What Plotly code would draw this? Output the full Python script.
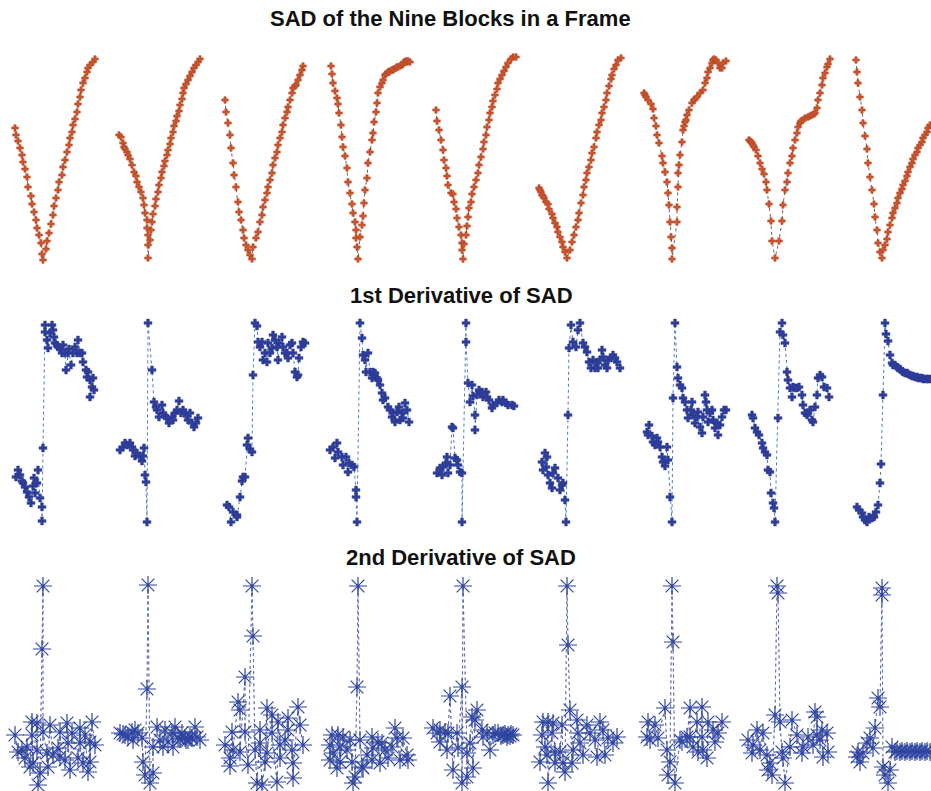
import plotly.graph_objects as go

# ---------------------------------------------------------------------------
# Data: nine blocks per frame; each block is a list of (position, value) pairs
# ---------------------------------------------------------------------------
sad_points = [
    [(5,134),(6,127),(8,121),(10,114),(12,107),(13,100),(15,93),(17,85),(18,75),(21,66),(22,58),(24,50),(26,42),(27,34),(29,27),(31,19),(32,8),(33,2),
     (36,13),(37,21),(39,29),(41,38),(43,47),(44,56),(46,64),(48,72),(49,80),(52,87),(53,95),(55,102),(57,110),(59,117),(60,124),(62,130),(63,137),(65,143),(67,150),(68,158),(70,165),(71,172),(73,179),(75,184),(77,190),(78,194),(80,197),(83,200),(85,203)],
    [(5,127),(7,125),(9,119),(10,115),(11,113),(13,110),(14,107),(16,103),(18,97),(20,90),(22,86),(23,80),(25,75),(27,70),(29,64),(30,57),(31,49),(33,42),(33,34),(34,27),(34,17),(34,4),
     (36,22),(37,32),(38,40),(39,48),(41,56),(42,63),(44,70),(45,77),(47,84),(48,90),(50,96),(51,101),(53,107),(54,112),(56,118),(57,124),(59,130),(60,136),(62,141),(63,146),(65,151),(66,157),(68,163),(69,169),(70,174),(72,178),(74,182),(76,186),(78,190),(80,194),(82,197),(84,200),(86,203)],
    [(7,162),(8,150),(10,139),(12,127),(13,114),(15,99),(16,87),(18,75),(20,60),(21,50),(23,42),(25,32),(26,24),(28,17),(30,12),(32,7),(34,3),
     (35,15),(38,24),(40,30),(42,40),(44,47),(45,55),(47,62),(49,69),(50,75),(52,82),(54,89),(55,97),(57,104),(59,110),(60,117),(62,124),(64,130),(65,137),(67,144),(69,150),(70,155),(72,162),(74,169),(75,174),(77,176),(78,177),(80,182),(82,187),(84,192),(85,196)],
    [(9,196),(10,188),(11,179),(13,171),(15,164),(16,158),(17,149),(19,137),(20,125),(21,115),(23,106),(25,94),(26,80),(28,69),(30,58),(31,49),(33,40),(34,32),(34,24),(35,15),(36,3),
     (38,25),(40,37),(41,46),(42,59),(43,72),(45,84),(46,99),(48,110),(50,122),(51,129),(52,140),(54,150),(55,159),(56,169),(58,175),(60,179),(61,182),(63,187),(64,188),(66,190),(67,190),(68,191),(70,192),(71,192),(72,193),(74,194),(75,195),(76,195),(78,196),(80,197),(81,198),(82,200),(84,201),(85,200),(86,201),(88,200)],
    [(10,152),(11,141),(13,132),(15,122),(17,112),(18,102),(20,94),(21,86),(22,77),(25,69),(27,68),(28,60),(30,53),(31,44),(33,35),(35,27),(36,19),(36,12),(37,3),
     (38,18),(40,27),(41,36),(42,45),(43,54),(45,60),(46,68),(48,75),(50,82),(52,89),(53,97),(55,105),(57,113),(58,120),(60,127),(61,135),(63,142),(64,149),(66,155),(67,161),(69,167),(71,173),(72,179),(74,183),(76,187),(78,191),(80,195),(82,199),(85,203),(87,205),(90,205)],
    [(9,74),(10,72),(11,70),(12,67),(13,66),(14,64),(16,60),(18,58),(19,53),(22,48),(23,44),(25,39),(27,35),(28,30),(30,25),(32,20),(33,15),(35,10),(37,4),
     (40,12),(42,20),(44,27),(46,35),(48,42),(49,49),(51,59),(53,67),(54,75),(56,82),(57,89),(59,95),(61,102),(62,109),(64,115),(66,124),(67,130),(69,137),(71,142),(72,149),(74,155),(76,162),(77,169),(79,176),(81,183),(82,187),(84,193),(86,197),(88,202),(91,204)],
    [(10,169),(11,167),(12,165),(14,162),(17,158),(19,153),(20,144),(22,136),(23,127),(25,119),(28,106),(29,99),(31,90),(33,80),(34,69),(35,57),(36,40),(37,25),(38,14),(38,3),
     (43,40),(43,55),(44,75),(44,89),(45,97),(46,107),(48,120),(49,132),(50,136),(51,140),(52,142),(53,147),(55,152),(58,159),(60,162),(61,163),(63,165),(66,169),(69,172),(71,179),(73,184),(74,190),(76,194),(78,199),(79,202),(80,203),(82,202),(84,199),(86,194),(88,194),(89,199),(92,201)],
    [(11,122),(12,121),(13,120),(14,119),(15,117),(16,115),(18,112),(20,106),(22,99),(24,93),(26,88),(28,80),(29,72),(31,58),(33,41),(34,21),(37,4),
     (41,21),(44,41),(45,57),(47,72),(49,80),(50,89),(52,99),(54,106),(55,114),(57,122),(59,129),(60,135),(62,139),(63,141),(65,142),(67,144),(70,145),(72,146),(74,147),(76,148),(77,149),(79,154),(80,162),(82,169),(84,177),(85,184),(87,189),(89,195),(90,198),(92,203)],
    [(14,202),(15,190),(16,179),(18,165),(20,152),(21,139),(23,126),(25,113),(26,99),(28,85),(30,72),(32,58),(33,45),(35,32),(36,19),(38,10),(40,4),
     (41,12),(43,17),(45,23),(46,30),(48,37),(50,44),(51,49),(53,54),(55,59),(56,64),(58,69),(60,73),(61,77),(63,81),(65,86),(66,90),(68,95),(70,99),(71,103),(73,107),(75,110),(76,114),(78,117),(80,120),(81,124),(83,127),(85,130),(86,134),(88,137),(90,140),(92,144)],
]

d1_points = [
    [(6,47),(8,54),(10,49),(12,43),(13,41),(15,37),(17,32),(19,27),(21,21),(23,38),(24,46),(25,31),(27,41),(28,54),(30,26),(32,17),(32,3),(33,76),(35,199),(35,192),
     (37,184),(38,176),(40,191),(42,199),(43,194),(44,187),(45,181),(47,179),(48,177),(50,175),(52,171),(53,179),(55,171),(56,154),(58,171),(59,175),(61,159),(63,171),
     (65,177),(67,171),(68,184),(70,171),(72,171),(73,162),(76,154),(77,147),(78,152),(80,144),(80,127),(82,137),(83,146),(84,134)],
    [(6,74),(9,77),(11,81),(13,79),(16,81),(18,77),(19,74),(21,68),(23,71),(26,67),(28,63),(29,68),(30,76),(31,49),(32,42),(33,2),(34,201),(38,154),(40,122),
     (42,117),(43,114),(45,107),(48,119),(49,111),(51,108),(53,106),(55,101),(58,107),(59,104),(61,111),(63,114),(65,123),(67,111),(69,114),(71,111),(73,108),
     (74,104),(76,111),(78,101),(80,97),(82,101),(84,106)],
    [(9,19),(11,17),(13,2),(15,12),(19,9),(19,7),(22,27),(24,43),(25,47),(27,47),(29,79),(30,86),(32,75),(34,72),(35,149),(37,201),(39,198),(40,182),(42,177),
     (44,182),(45,164),(47,171),(49,162),(50,181),(52,171),(54,176),(55,189),(57,184),(59,177),(60,164),(61,181),(64,187),(65,177),(67,171),(69,171),(70,166),
     (72,179),(74,181),(75,171),(77,152),(79,147),(80,149),(81,166),(83,177),(85,182),(87,181)],
    [(8,74),(11,77),(13,66),(15,81),(16,72),(20,67),(21,59),(24,67),(26,52),(27,61),(30,59),(32,57),(34,34),(34,27),(35,2),(38,201),(40,186),(41,169),(43,164),
     (44,152),(46,171),(48,152),(50,146),(51,152),(53,151),(55,146),(56,144),(58,139),(60,131),(61,124),(63,126),(66,117),(68,114),(70,107),(71,111),(73,102),
     (75,112),(77,117),(78,104),(80,111),(81,106),(83,121),(85,114),(87,102)],
    [(11,51),(14,56),(16,49),(17,57),(20,61),(21,67),(22,51),(24,59),(26,97),(27,96),(29,66),(31,64),(32,59),(34,52),(36,51),(36,2),(40,201),(40,182),(42,141),
     (44,122),(46,139),(47,128),(49,109),(49,94),(51,129),(53,134),(56,132),(57,127),(60,132),(61,127),(63,124),(66,116),(67,119),(71,121),(73,124),(76,122),
     (77,124),(80,121),(82,119),(86,119),(88,118)],
    [(12,62),(13,54),(15,71),(16,57),(17,67),(18,49),(20,41),(22,36),(23,51),(25,56),(28,46),(30,34),(32,39),(33,41),(35,24),(36,2),(38,109),(39,176),(41,199),
     (43,182),(46,177),(48,194),(50,201),(53,181),(55,177),(57,172),(59,162),(61,156),(63,164),(65,156),(67,162),(68,156),(70,164),(72,174),(73,167),(75,159),
     (77,156),(78,164),(81,166),(83,169),(85,166),(87,162),(90,156)],
    [(13,92),(14,89),(15,99),(18,88),(19,82),(21,79),(23,86),(24,82),(26,77),(28,67),(29,62),(31,58),(33,77),(34,64),(36,27),(38,2),(39,126),(41,201),(43,157),
     (44,146),(46,139),(48,136),(49,126),(51,122),(53,114),(54,106),(57,114),(58,122),(59,109),(61,101),(63,107),(64,112),(66,97),(68,91),(69,107),(71,129),
     (72,122),(73,114),(74,102),(76,111),(78,114),(79,104),(81,96),(83,101),(84,89),(86,99),(88,107),(90,114),(92,114)],
    [(14,109),(15,106),(17,96),(19,92),(21,89),(24,81),(25,76),(27,72),(29,69),(30,54),(32,52),(33,31),(35,21),(36,16),(37,2),(40,106),(42,192),(44,201),(45,189),
     (47,181),(49,152),(50,144),(52,136),(54,127),(55,137),(57,136),(59,136),(61,137),(64,129),(65,119),(67,111),(69,109),(70,111),(72,114),(74,104),(75,102),
     (77,117),(79,129),(80,146),(82,149),(84,147),(86,137),(89,136),(91,127)],
    [(15,17),(17,14),(20,11),(21,7),(23,4),(25,2),(27,7),(30,6),(32,7),(34,12),(36,19),(38,41),(39,60),(41,129),(43,201),(44,190),(46,183),(48,169),(50,161),
     (51,159),(53,159),(55,157),(56,156),(58,155),(60,153),(61,152),(63,151),(65,151),(66,150),(68,149),(70,148),(71,148),(73,147),(75,147),(76,146),(78,146),
     (80,146),(81,145),(83,145),(85,145),(86,145),(88,145)],
]

d2_points = [
    [(5,53),(8,36),(12,38),(15,30),(17,41),(20,21),(22,66),(22,53),(23,25),(27,65),(27,38),(28,3),(30,15),(32,139),(33,202),(33,56),(37,35),(38,21),(40,63),
     (43,33),(48,40),(50,56),(50,31),(55,28),(57,65),(58,45),(60,18),(62,55),(68,30),(70,60),(70,45),(73,25),(75,53),(78,16),(80,46),(80,26),(82,66),(85,43)],
    [(6,55),(9,54),(11,53),(14,51),(18,56),(19,48),(21,58),(24,55),(28,50),(29,26),(31,13),(33,99),(34,203),(36,5),(39,15),(39,41),(43,61),(46,48),(49,41),
     (51,58),(54,46),(58,55),(59,41),(61,61),(64,50),(66,49),(68,55),(71,50),(72,48),(74,48),(76,51),(78,50),(81,61),(83,51),(86,48)],
    [(7,43),(12,30),(12,22),(14,56),(15,38),(20,86),(22,78),(22,36),(27,111),(27,56),(30,23),(34,202),(35,152),(37,38),(39,5),(42,58),(42,45),(44,3),(47,26),
     (49,80),(49,35),(54,73),(54,55),(59,6),(60,66),(62,43),(62,30),(67,48),(70,70),(70,58),(74,38),(75,25),(75,10),(80,81),(82,63),(85,43)],
    [(8,43),(8,28),(10,53),(11,35),(15,20),(16,53),(18,41),(18,26),(21,51),(25,38),(28,48),(30,26),(31,5),(33,11),(35,101),(36,202),(38,48),(40,21),(41,20),
     (45,33),(50,51),(50,28),(51,40),(56,46),(58,25),(60,45),(63,38),(66,30),(70,41),(73,60),(75,50),(78,28),(81,50),(85,33),(86,28)],
    [(7,60),(11,55),(14,58),(14,46),(19,56),(21,38),(22,55),(24,92),(27,18),(31,55),(32,40),(36,101),(36,5),(37,202),(41,35),(41,11),(44,45),(46,71),(47,20),
     (49,68),(51,78),(56,58),(57,51),(61,55),(64,38),(67,53),(69,55),(72,55),(75,52),(77,53),(79,54),(81,51),(82,53),(84,52),(85,54),(87,53)],
    [(10,26),(12,53),(13,66),(15,41),(17,33),(18,66),(18,5),(22,55),(23,65),(25,36),(25,25),(30,36),(32,63),(33,25),(35,16),(37,202),(38,143),(40,78),(42,25),
     (43,38),(47,68),(48,55),(50,45),(53,33),(57,63),(60,55),(65,48),(67,31),(70,66),(73,58),(75,33),(78,50),(83,45),(87,51)],
    [(13,51),(14,66),(16,48),(21,63),(24,50),(31,80),(33,38),(34,13),(36,26),(38,202),(39,146),(41,5),(46,48),(48,46),(53,51),(56,80),(56,51),(59,41),(63,66),
     (64,36),(68,81),(68,51),(69,38),(73,30),(74,66),(79,58),(81,46),(84,55),(88,66)],
    [(10,48),(14,35),(15,43),(19,58),(22,38),(25,55),(29,33),(30,18),(32,25),(34,13),(37,73),(39,202),(40,195),(42,66),(44,36),(45,30),(47,5),(52,41),(54,68),
     (59,53),(64,35),(65,41),(70,51),(75,43),(77,76),(79,71),(79,53),(82,48),(84,58),(85,31),(89,55),(90,36)],
    [(15,31),(16,36),(18,26),(21,35),(25,45),(28,50),(31,40),(33,60),(36,90),(38,81),(40,200),(40,193),(41,21),(43,13),(46,5),(48,18),(50,41),(53,36),(55,37),
     (58,36),(60,37),(63,36),(65,37),(68,36),(70,37),(73,36),(75,37),(78,36),(80,37),(83,36),(85,37),(88,36)],
]

row_titles = ["SAD of the Nine Blocks in a Frame", "1st Derivative of SAD", "2nd Derivative of SAD"]

# ---------------------------------------------------------------------------
# Page geometry (pixels) and styles for each row of small multiples
# ---------------------------------------------------------------------------
W, H = 931, 791
COL_LEFT, COL_PITCH, COL_WIDTH = 10, 104, 100

rows = [
    dict(points=sad_points, bottom=262, top=52, title_y=18, title_x=450,
         marker=dict(symbol="cross", size=5.5, color="#c8552c",
                     line=dict(color="#b84a28", width=0.6)),
         line=dict(color="#7b5a4e", width=1, dash="dot")),
    dict(points=d1_points, bottom=524, top=316, title_y=295, title_x=461,
         marker=dict(symbol="cross", size=6.5, color="#2d3d98",
                     line=dict(color="#2d3d98", width=0.6)),
         line=dict(color="#4d7cc2", width=1, dash="dot")),
    dict(points=d2_points, bottom=788, top=580, title_y=557, title_x=461,
         marker=dict(symbol="asterisk-open", size=15, color="#2f45a0",
                     line=dict(color="#2f45a0", width=1.2)),
         line=dict(color="#4d6fc0", width=1, dash="dot")),
]

fig = go.Figure()
layout = {}
annotations = []

for r, row in enumerate(rows):
    for k, pts in enumerate(row["points"]):
        n = r * 9 + k + 1
        x0 = COL_LEFT + COL_PITCH * k
        x1 = min(W, x0 + COL_WIDTH)
        xs = [p[0] for p in pts]
        ys = [p[1] for p in pts]
        xname = "x" if n == 1 else f"x{n}"
        yname = "y" if n == 1 else f"y{n}"
        layout["xaxis" if n == 1 else f"xaxis{n}"] = dict(
            domain=[x0 / W, x1 / W], range=[0, x1 - x0], visible=False,
            anchor=yname, fixedrange=True)
        layout["yaxis" if n == 1 else f"yaxis{n}"] = dict(
            domain=[1 - row["bottom"] / H, 1 - row["top"] / H],
            range=[0, row["bottom"] - row["top"]], visible=False,
            anchor=xname, fixedrange=True)
        if r == 2:
            # faint red guide trace beneath the asterisks
            fig.add_trace(go.Scatter(
                x=xs, y=ys, xaxis=xname, yaxis=yname, mode="lines",
                line=dict(color="rgba(214,90,110,0.45)", width=1, dash="dot"),
                hoverinfo="skip", cliponaxis=False))
        fig.add_trace(go.Scatter(
            x=xs, y=ys, xaxis=xname, yaxis=yname, mode="lines+markers",
            marker=row["marker"], line=row["line"], cliponaxis=False,
            hoverinfo="skip"))
    annotations.append(dict(
        text=f"<b>{row_titles[r]}</b>", xref="paper", yref="paper",
        x=row["title_x"] / W, y=1 - row["title_y"] / H,
        xanchor="center", yanchor="middle", showarrow=False,
        font=dict(family="Liberation Sans, Arial, sans-serif", size=22, color="#111111")))

fig.update_layout(
    width=W, height=H, margin=dict(l=0, r=0, t=0, b=0),
    paper_bgcolor="white", plot_bgcolor="white", showlegend=False,
    annotations=annotations, **layout)

fig.write_html("out.html")
